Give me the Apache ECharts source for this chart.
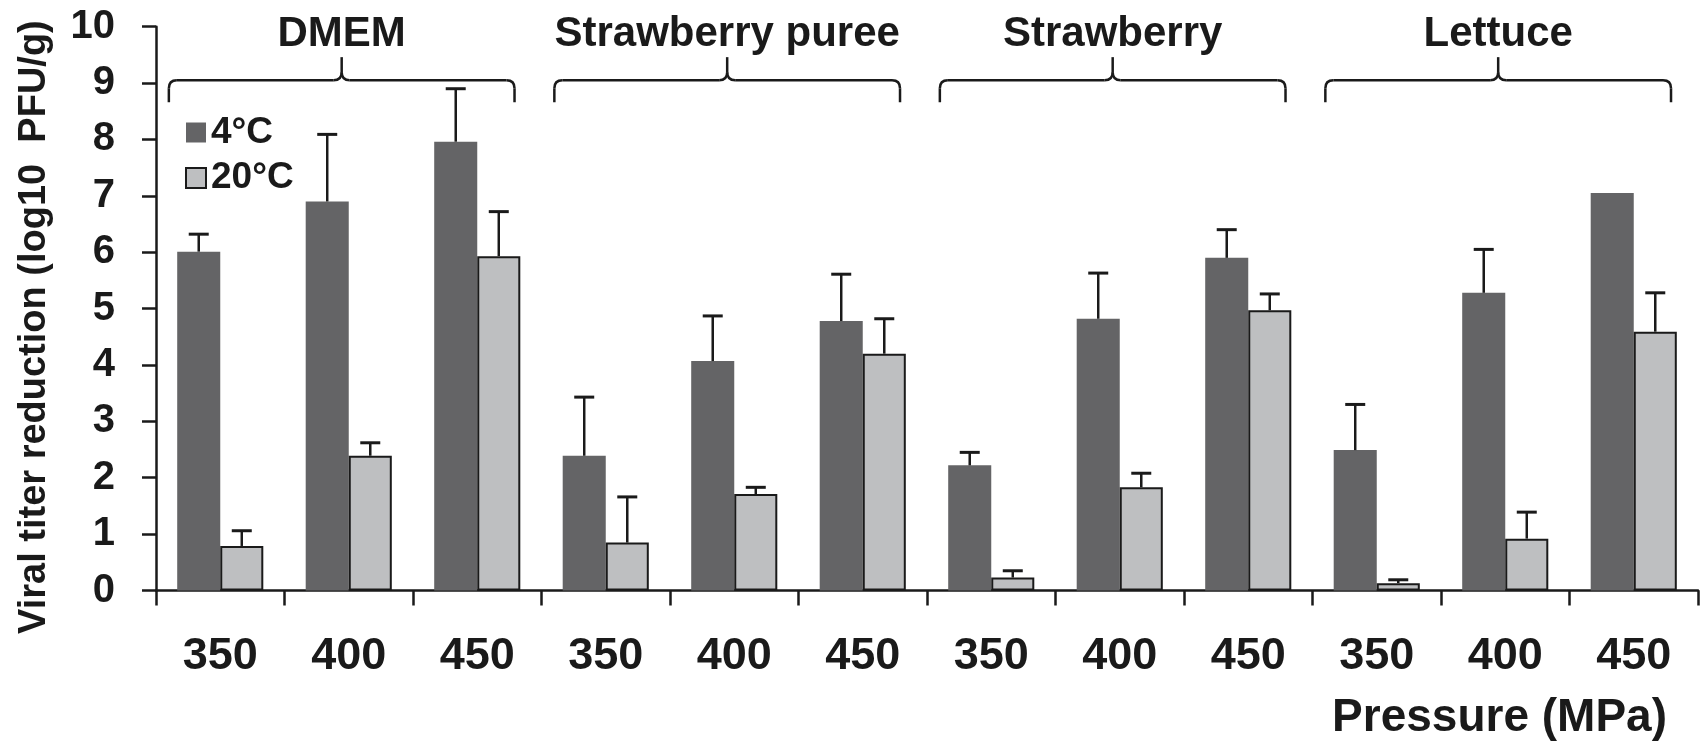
<!DOCTYPE html>
<html><head><meta charset="utf-8">
<script src="https://cdn.jsdelivr.net/npm/echarts@6/dist/echarts.min.js"></script>
<style>html,body{margin:0;padding:0;background:#fff}#c{width:1705px;height:750px}</style>
</head><body><div id="c"></div>
<script>
// ---- data ----
const groups = ['DMEM', 'Strawberry puree', 'Strawberry', 'Lettuce'];
const pressures = ['350', '400', '450'];
const seriesNames = ['4°C', '20°C'];
const mean4  = [6.01, 6.90, 7.96, 2.39, 4.07, 4.78, 2.22, 4.82, 5.90, 2.49, 5.28, 7.05];
const err4   = [0.31, 1.19, 0.94, 1.04, 0.80, 0.83, 0.23, 0.81, 0.50, 0.81, 0.77, null];
const mean20 = [0.79, 2.39, 5.93, 0.85, 1.71, 4.20, 0.23, 1.83, 4.97, 0.13, 0.92, 4.59];
const err20  = [0.27, 0.23, 0.79, 0.81, 0.12, 0.62, 0.12, 0.25, 0.29, 0.06, 0.47, 0.69];
const yAxisTitle = 'Viral titer reduction (log10  PFU/g)';
const xAxisTitle = 'Pressure (MPa)';

// ---- chart ----
const FONT = "'Liberation Sans', Arial, Helvetica, sans-serif";
const INK = '#1a1a1a';
const GAP = 0.33;
const categories = [];
groups.forEach(g => pressures.forEach(p => categories.push(g + '|' + p)));

function errRender(sIdx) {
  return function (params, api) {
    const e = api.value(2);
    if (e == null || isNaN(e)) return null;
    const i = api.value(0), v = api.value(1);
    const band = api.size([1, 0])[0];
    const bw = band * (1 - GAP) / 2;
    const off = sIdx === 0 ? -bw / 2 : bw / 2;
    const b = api.coord([i, v]);
    const t = api.coord([i, v + e]);
    const x = b[0] + off;
    return {
      type: 'group', children: [
        { type: 'line', shape: { x1: x, y1: b[1], x2: x, y2: t[1] }, style: { stroke: INK, lineWidth: 2.5 } },
        { type: 'line', shape: { x1: x - 10, y1: t[1], x2: x + 10, y2: t[1] }, style: { stroke: INK, lineWidth: 3 } }
      ]
    };
  };
}

function bracketRender(params, api) {
  const start = api.value(0);
  const band = api.size([1, 0])[0];
  const c0 = api.coord([start, 0])[0];
  const L = c0 - 0.4 * band, R = c0 + 2.29 * band, C = (L + R) / 2;
  const yl = api.coord([start, 9.05])[1];
  const yb = api.coord([start, 8.66])[1];
  const yn = api.coord([start, 9.46])[1];
  const yt = api.coord([start, 9.86])[1];
  const r = 8;
  const st = { stroke: INK, lineWidth: 2.5, fill: null };
  const ln = (x1, y1, x2, y2) => ({ type: 'line', shape: { x1, y1, x2, y2 }, style: st });
  const bz = (x1, y1, cx, cy, x2, y2) => ({ type: 'bezierCurve', shape: { x1, y1, cpx1: cx, cpy1: cy, x2, y2 }, style: st });
  return {
    type: 'group', children: [
      ln(L, yb, L, yl + r), bz(L, yl + r, L, yl, L + r, yl),
      ln(L + r, yl, C - r, yl), bz(C - r, yl, C, yl, C, yl - r),
      ln(C, yl - r, C, yn), bz(C, yl - r, C, yl, C + r, yl),
      ln(C + r, yl, R - r, yl), bz(R - r, yl, R, yl, R, yl + r),
      ln(R, yl + r, R, yb),
      { type: 'text', x: C, y: yt, style: { text: groups[params.dataIndex], fontSize: 42, fontWeight: 'bold', fontFamily: FONT, fill: INK, align: 'center', verticalAlign: 'middle' } }
    ]
  };
}

const chart = echarts.init(document.getElementById('c'), null, { renderer: 'canvas' });
chart.setOption({
  animation: false,
  backgroundColor: '#fff',
  textStyle: { fontFamily: FONT, color: INK },
  title: {
    text: xAxisTitle, right: 38, top: 695, padding: 0,
    textStyle: { fontSize: 46, fontWeight: 'bold', fontFamily: FONT, color: INK }
  },
  legend: {
    data: seriesNames, orient: 'vertical', left: 185, top: 114, padding: 0,
    itemWidth: 20, itemHeight: 20, itemGap: 8.5, icon: 'rect',
    textStyle: { fontSize: 37, fontWeight: 'bold', fontFamily: FONT, color: INK }
  },
  grid: { left: 156, right: 7, top: 26.7, bottom: 159.5, outerBoundsMode: 'none', containLabel: false },
  xAxis: {
    type: 'category', data: categories, boundaryGap: true,
    axisLine: { lineStyle: { color: INK, width: 2.5 } },
    axisTick: { show: true, interval: 0, length: 15, inside: false, alignWithLabel: false, lineStyle: { color: INK, width: 2.5 } },
    axisLabel: { interval: 0, margin: 44, fontSize: 45, fontWeight: 'bold', fontFamily: FONT, color: INK, formatter: v => v.split('|')[1] },
    splitLine: { show: false }
  },
  yAxis: {
    type: 'value', min: 0, max: 10, interval: 1,
    name: yAxisTitle, nameLocation: 'middle', nameRotate: 90, nameGap: 102,
    nameTextStyle: { fontSize: 38, fontWeight: 'bold', fontFamily: FONT, color: INK, padding: [0, 37, 0, 0] },
    axisLine: { show: true, lineStyle: { color: INK, width: 2.5 } },
    axisTick: { show: true, length: 14, lineStyle: { color: INK, width: 2.5 } },
    axisLabel: { margin: 41, fontSize: 40, fontWeight: 'bold', fontFamily: FONT, color: INK },
    splitLine: { show: false }
  },
  series: [
    { name: seriesNames[0], type: 'bar', data: mean4, barGap: '0%', barCategoryGap: (GAP * 100) + '%',
      itemStyle: { color: '#646466' } },
    { name: seriesNames[1], type: 'bar', data: mean20, barGap: '0%', barCategoryGap: (GAP * 100) + '%',
      itemStyle: { color: '#bebfc1', borderColor: INK, borderWidth: 2 } },
    { type: 'custom', renderItem: errRender(0), data: mean4.map((v, i) => [i, v, err4[i]]), encode: { x: 0, y: 1 }, z: 5, silent: true },
    { type: 'custom', renderItem: errRender(1), data: mean20.map((v, i) => [i, v, err20[i]]), encode: { x: 0, y: 1 }, z: 5, silent: true },
    { type: 'custom', renderItem: bracketRender, data: groups.map((g, i) => [i * 3, 0]), encode: { x: 0, y: 1 }, z: 5, silent: true, clip: false }
  ]
});
</script></body></html>
